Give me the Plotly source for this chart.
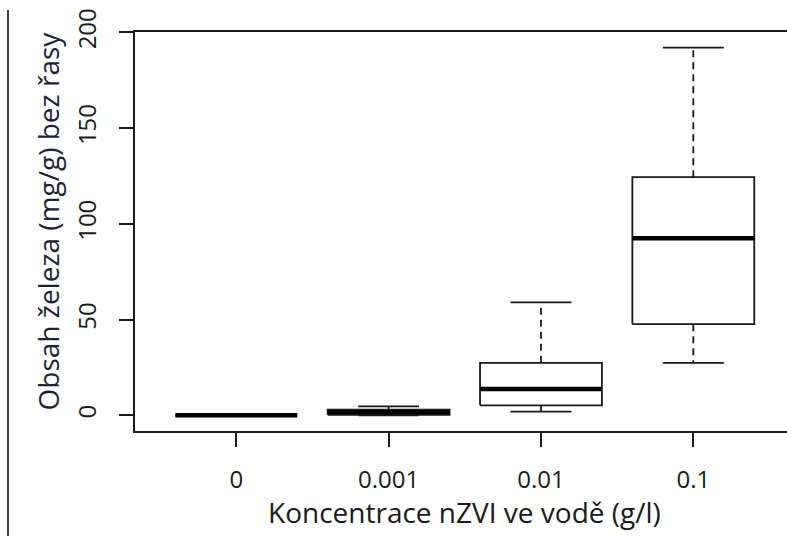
import plotly.graph_objects as go

categories = ["0", "0.001", "0.01", "0.1"]
lower_whisker = [0.0, 0.0, 1.9, 27.4]
q1 = [0.0, 0.3, 5.2, 47.6]
median = [0.0, 1.6, 13.8, 92.5]
q3 = [0.1, 2.9, 27.4, 124.4]
upper_whisker = [0.2, 4.7, 59.0, 192.0]

y_ticks = [0, 50, 100, 150, 200]
x_title = "Koncentrace nZVI ve vodě (g/l)"
y_title = "Obsah železa (mg/g) bez řasy"

BOXW = 0.4
CAPW = 0.2
positions = list(range(1, len(categories) + 1))

box_x, box_y = [], []
med_x, med_y = [], []
wh_x, wh_y = [], []
cap_x, cap_y = [], []
for p, lo, a, m, b, hi in zip(positions, lower_whisker, q1, median, q3, upper_whisker):
    box_x += [p - BOXW, p + BOXW, p + BOXW, p - BOXW, p - BOXW, None]
    box_y += [a, a, b, b, a, None]
    med_x += [p - BOXW, p + BOXW, None]
    med_y += [m, m, None]
    wh_x += [p, p, None, p, p, None]
    wh_y += [b, hi, None, a, lo, None]
    cap_x += [p - CAPW, p + CAPW, None, p - CAPW, p + CAPW, None]
    cap_y += [hi, hi, None, lo, lo, None]

fig = go.Figure()
line_col = "#1a1a1a"
fig.add_trace(go.Scatter(x=wh_x, y=wh_y, mode="lines",
                         line=dict(color=line_col, width=1.8, dash="7px,5px"), hoverinfo="skip"))
fig.add_trace(go.Scatter(x=cap_x, y=cap_y, mode="lines",
                         line=dict(color=line_col, width=1.8), hoverinfo="skip"))
fig.add_trace(go.Scatter(x=box_x, y=box_y, mode="lines",
                         line=dict(color=line_col, width=1.8), hoverinfo="skip"))
fig.add_trace(go.Scatter(x=med_x, y=med_y, mode="lines",
                         line=dict(color="#000000", width=4.5), hoverinfo="skip"))

tick_font = dict(family="Open Sans", size=24, color="#1a1a1a")
title_font = dict(family="Open Sans", size=28, color="#1a1a1a")

fig.update_layout(
    width=787, height=537,
    margin=dict(l=135, r=0, t=32, b=106),
    paper_bgcolor="white", plot_bgcolor="white",
    showlegend=False,
    font=tick_font,
    xaxis=dict(
        range=[0.335, 4.615], tickvals=positions, ticktext=categories,
        showgrid=False, zeroline=False,
        showline=True, linecolor=line_col, linewidth=1.8, mirror=True,
        ticks="outside", ticklen=14, tickwidth=1.8, tickcolor=line_col,
        ticklabelstandoff=12, tickfont=tick_font,
    ),
    yaxis=dict(
        range=[-8.2, 200.2], tickvals=y_ticks,
        showgrid=False, zeroline=False,
        showline=True, linecolor=line_col, linewidth=1.8,
        ticks="outside", ticklen=14, tickwidth=1.8, tickcolor=line_col,
        tickangle=-90, ticklabelstandoff=14, tickfont=tick_font,
    ),
)

fig.add_annotation(text=x_title, xref="paper", yref="paper",
                   x=(464.5 - 135) / 652, y=(431 - 512) / 399,
                   xanchor="center", yanchor="middle", showarrow=False,
                   font=title_font)
fig.add_annotation(text=y_title, xref="paper", yref="paper",
                   x=(47 - 135) / 652, y=(431 - 221.5) / 399, textangle=-90,
                   xanchor="center", yanchor="middle", showarrow=False,
                   font=dict(family="Open Sans", size=28, color="#1c2238"))

fig.add_shape(type="line", xref="paper", yref="paper",
              x0=(8 - 135) / 652, x1=(8 - 135) / 652, y0=(431 - 10) / 399, y1=(431 - 536) / 399,
              line=dict(color="#000000", width=1.5))

fig.write_html("out.html")
